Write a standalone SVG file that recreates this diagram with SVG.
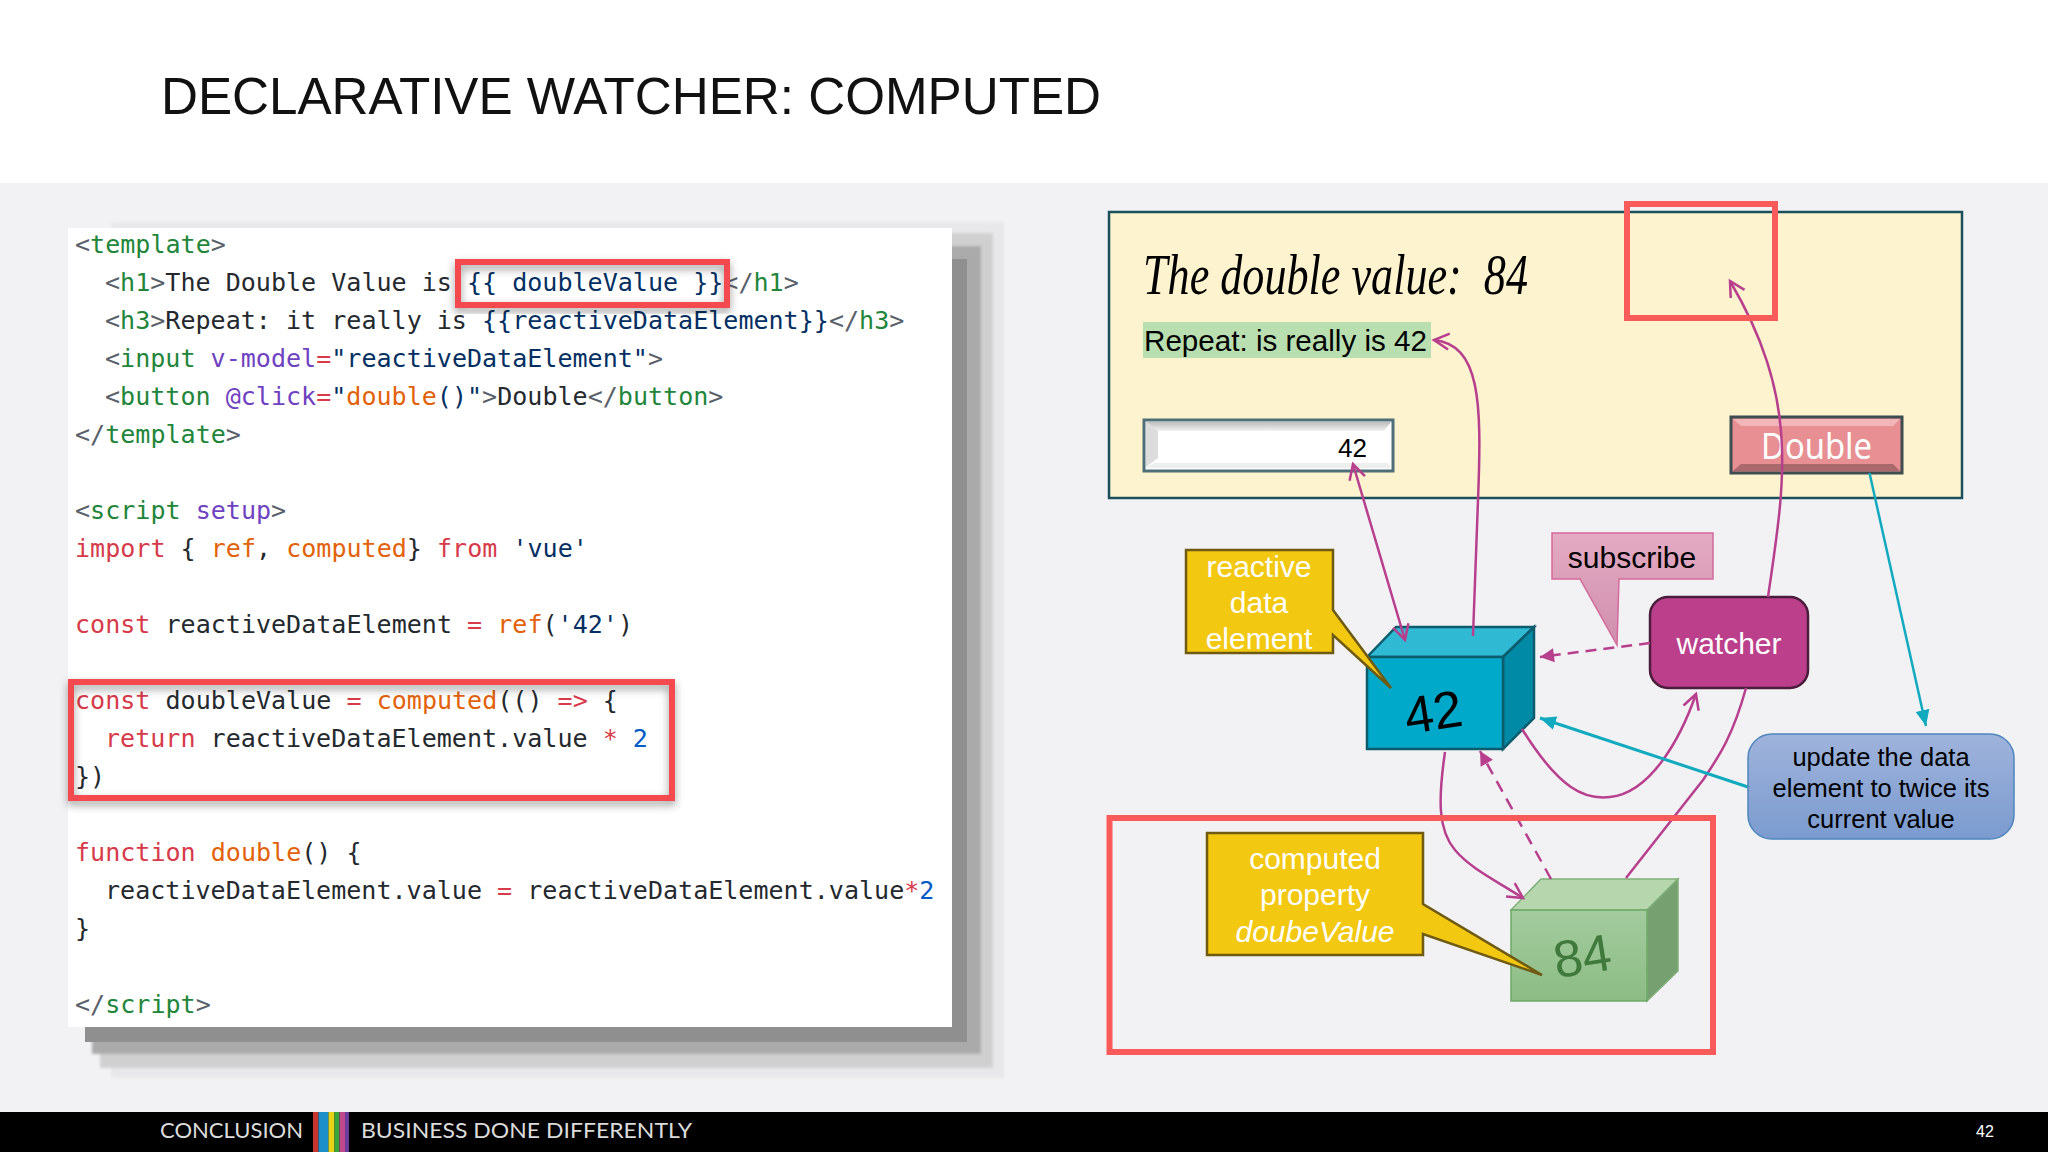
<svg xmlns="http://www.w3.org/2000/svg" width="2048" height="1152" viewBox="0 0 2048 1152">
<defs>
<style>
text{white-space:pre}
.sans{font-family:"Liberation Sans",Arial,sans-serif}
.code{font-family:"DejaVu Sans Mono","Liberation Mono",monospace;font-size:25.05px;fill:#24292e}
.t{fill:#22863a}.g{fill:#586069}.p{fill:#6f42c1}.s{fill:#032f62}.k{fill:#d73a49}.f{fill:#e36209}.n{fill:#005cc5}
.hl{fill:none;stroke:#f4484f;stroke-width:6;filter:url(#sh)}
.red{fill:none;stroke:#f95b5b;stroke-width:6}
.call{fill:#f2c811;stroke:#6e5a12;stroke-width:2.5}
.wt{fill:#fff;font-size:30px;text-anchor:middle}
.bk{fill:#000;font-size:25.5px;text-anchor:middle}
.m{fill:none;stroke:#b83f8e;stroke-width:2.5}
.c{fill:none;stroke:#11aabf}
.foot{font-family:Lato,"Liberation Sans",sans-serif;font-size:22px;fill:#dcdcdc}
</style>
<filter id="sh" x="-10%" y="-20%" width="120%" height="140%"><feDropShadow dx="0" dy="4" stdDeviation="4" flood-color="#000" flood-opacity=".4"/></filter>
<filter id="soft" x="-5%" y="-5%" width="110%" height="110%"><feGaussianBlur stdDeviation="1.5"/></filter>
<marker id="open" markerUnits="userSpaceOnUse" markerWidth="26" markerHeight="26" refX="19" refY="13" orient="auto-start-reverse"><path d="M4,5 L19,13 L4,21" fill="none" stroke="#b83f8e" stroke-width="2.5"/></marker>
<marker id="fm" markerUnits="userSpaceOnUse" markerWidth="20" markerHeight="20" refX="15" refY="10" orient="auto"><path d="M1,3 L15,10 L1,17 Z" fill="#b83f8e"/></marker>
<marker id="fc" markerUnits="userSpaceOnUse" markerWidth="20" markerHeight="22" refX="16" refY="11" orient="auto"><path d="M0,4 L16,11 L0,18 Z" fill="#11aabf"/></marker>
<linearGradient id="pk" x1="0" y1="0" x2="0" y2="1"><stop offset="0" stop-color="#e4aac3"/><stop offset="1" stop-color="#cf8fae"/></linearGradient>
<linearGradient id="bl" x1="0" y1="0" x2="0" y2="1"><stop offset="0" stop-color="#9fb3db"/><stop offset="1" stop-color="#7b9bcf"/></linearGradient>
<linearGradient id="gr" x1="0" y1="0" x2="0" y2="1"><stop offset="0" stop-color="#a3cb9e"/><stop offset="1" stop-color="#8cbc84"/></linearGradient>
<linearGradient id="bev" x1="0" y1="0" x2="0" y2="1"><stop offset="0" stop-color="#bdbdbd"/><stop offset="1" stop-color="#f2f2f2"/></linearGradient>
</defs>

<rect width="2048" height="1152" fill="#f2f2f4"/>
<rect width="2048" height="183" fill="#fff"/>
<rect y="1112" width="2048" height="40" fill="#000"/>
<text class="sans" x="161" y="114" font-size="52" textLength="940" lengthAdjust="spacingAndGlyphs" fill="#111">DECLARATIVE WATCHER: COMPUTED</text>

<g id="code-panel">
<g filter="url(#soft)">
<rect x="111" y="222" width="893" height="856" fill="#e8e8ea"/>
<rect x="100" y="233" width="893" height="835" fill="#d0d0d1"/>
<rect x="92" y="246" width="889" height="808" fill="#aaa"/>
</g>
<rect x="85" y="259" width="882" height="783" fill="#8f8f8f"/>
<rect x="68" y="228" width="884" height="799" fill="#fff"/>
<g class="code">
<text x="75" y="253"><tspan class="g">&lt;</tspan><tspan class="t">template</tspan><tspan class="g">&gt;</tspan></text>
<text x="105" y="291"><tspan class="g">&lt;</tspan><tspan class="t">h1</tspan><tspan class="g">&gt;</tspan>The Double Value is <tspan class="s">{{ doubleValue }}</tspan><tspan class="g">&lt;/</tspan><tspan class="t">h1</tspan><tspan class="g">&gt;</tspan></text>
<text x="105" y="329"><tspan class="g">&lt;</tspan><tspan class="t">h3</tspan><tspan class="g">&gt;</tspan>Repeat: it really is <tspan class="s">{{reactiveDataElement}}</tspan><tspan class="g">&lt;/</tspan><tspan class="t">h3</tspan><tspan class="g">&gt;</tspan></text>
<text x="105" y="367"><tspan class="g">&lt;</tspan><tspan class="t">input</tspan> <tspan class="p">v-model</tspan><tspan class="k">=</tspan><tspan class="s">"reactiveDataElement"</tspan><tspan class="g">&gt;</tspan></text>
<text x="105" y="405"><tspan class="g">&lt;</tspan><tspan class="t">button</tspan> <tspan class="p">@click</tspan><tspan class="k">=</tspan><tspan class="s">"</tspan><tspan class="f">double</tspan><tspan class="s">()"</tspan><tspan class="g">&gt;</tspan>Double<tspan class="g">&lt;/</tspan><tspan class="t">button</tspan><tspan class="g">&gt;</tspan></text>
<text x="75" y="443"><tspan class="g">&lt;/</tspan><tspan class="t">template</tspan><tspan class="g">&gt;</tspan></text>
<text x="75" y="519"><tspan class="g">&lt;</tspan><tspan class="t">script</tspan> <tspan class="p">setup</tspan><tspan class="g">&gt;</tspan></text>
<text x="75" y="557"><tspan class="k">import</tspan> { <tspan class="f">ref</tspan>, <tspan class="f">computed</tspan>} <tspan class="k">from</tspan> <tspan class="s">'vue'</tspan></text>
<text x="75" y="633"><tspan class="k">const</tspan> reactiveDataElement <tspan class="k">=</tspan> <tspan class="f">ref</tspan>(<tspan class="s">'42'</tspan>)</text>
<text x="75" y="709"><tspan class="k">const</tspan> doubleValue <tspan class="k">=</tspan> <tspan class="f">computed</tspan>(() <tspan class="k">=&gt;</tspan> {</text>
<text x="105" y="747"><tspan class="k">return</tspan> reactiveDataElement.value <tspan class="k">*</tspan> <tspan class="n">2</tspan></text>
<text x="75" y="785">})</text>
<text x="75" y="861"><tspan class="k">function</tspan> <tspan class="f">double</tspan>() {</text>
<text x="105" y="899">reactiveDataElement.value <tspan class="k">=</tspan> reactiveDataElement.value<tspan class="k">*</tspan><tspan class="n">2</tspan></text>
<text x="75" y="937">}</text>
<text x="75" y="1013"><tspan class="g">&lt;/</tspan><tspan class="t">script</tspan><tspan class="g">&gt;</tspan></text>
</g>
<rect class="hl" x="458" y="262" width="269" height="43"/>
<rect class="hl" x="71" y="682" width="601" height="116"/>
</g>

<g id="app-panel">
<rect x="1109" y="212" width="853" height="286" fill="#fdf3cf" stroke="#1c4f5c" stroke-width="2.5"/>
<text x="1143" y="294" font-family="'Liberation Serif',serif" font-style="italic" font-size="56" textLength="385" lengthAdjust="spacingAndGlyphs" fill="#000">The double value:  84</text>
<rect x="1143" y="322" width="288" height="36" fill="#b9dfb0"/>
<text class="sans" x="1144" y="351" font-size="30" textLength="283" lengthAdjust="spacingAndGlyphs" fill="#000">Repeat: is really is 42</text>
</g>

<g id="input">
<rect x="1144" y="420" width="249" height="51" fill="#fff" stroke="#4f6f78" stroke-width="3"/>
<path d="M1146,422 H1391 L1384,431 H1158 Z" fill="url(#bev)"/>
<path d="M1146,422 L1158,431 V458 L1146,467 Z" fill="#dcdcdc"/>
<path d="M1146,468 L1154,463 H1388 L1391,468 Z" fill="#eee"/>
<text class="sans" x="1338" y="457" font-size="26" fill="#000">42</text>
</g>

<g id="button">
<rect x="1731" y="417" width="171" height="56" fill="#e88f93" stroke="#3d4d50" stroke-width="3"/>
<path d="M1733,419 H1900 L1893,426 H1741 Z" fill="#f3b6b8"/>
<path d="M1733,471 L1741,464 H1893 L1900,471 Z" fill="#a9696d"/>
<text x="1761" y="459" font-family="'Noto Sans','Liberation Sans',sans-serif" font-size="36" textLength="111" lengthAdjust="spacingAndGlyphs" fill="#fff">Double</text>
</g>

<g id="cube-42">
<path d="M1367,657 L1396,627 H1534 L1503,657 Z" fill="#2fb9d2" stroke="#0c5c6e" stroke-width="2.5"/>
<path d="M1503,657 L1534,627 V718 L1503,749 Z" fill="#008aa5" stroke="#0c5c6e" stroke-width="2.5"/>
<rect x="1367" y="657" width="136" height="92" fill="#00a9c9" stroke="#0c5c6e" stroke-width="2.5"/>
<text class="sans" x="1433" y="730" font-size="52" text-anchor="middle" fill="#000" transform="rotate(-9 1433 711)">42</text>
</g>

<g id="cube-84">
<path d="M1511,910 L1541,879 H1678 L1647,910 Z" fill="#b6d6ae" stroke="#7fb077" stroke-width="1.5"/>
<path d="M1647,910 L1678,879 V971 L1647,1001 Z" fill="#76a070" stroke="#7fb077" stroke-width="1.5"/>
<rect x="1511" y="910" width="136" height="91" fill="url(#gr)" stroke="#6fa868" stroke-width="1.5"/>
<text class="sans" x="1582" y="974" font-size="52" text-anchor="middle" fill="#3f7a3c" transform="rotate(-9 1582 955)">84</text>
</g>

<g id="watcher">
<rect x="1650" y="597" width="158" height="91" rx="18" fill="#bb3f8a" stroke="#4a1d3c" stroke-width="2.5"/>
<text class="sans wt" x="1729" y="654">watcher</text>
</g>

<g id="connectors">
<path class="m" d="M1405,640 L1353,464" marker-start="url(#open)" marker-end="url(#open)"/>
<path class="m" d="M1473,636 L1478,500 C1482,400 1480,345 1434,340" marker-end="url(#open)"/>
<path class="m" d="M1768,597 C1785,480 1800,400 1730,281" marker-end="url(#open)"/>
<path class="m" d="M1522,729 C1560,790 1585,800 1610,797 C1650,793 1680,740 1696,694" marker-end="url(#open)"/>
<path class="m" d="M1746,688 C1733,735 1720,755 1703,780 L1626,878"/>
<path class="m" d="M1445,752 C1438,800 1438,830 1455,850 C1470,868 1495,880 1523,898" marker-end="url(#open)"/>
<path class="m" d="M1650,643 L1540,657" stroke-width="3.5" stroke-dasharray="11 7" marker-end="url(#fm)"/>
<path class="m" d="M1551,879 L1480,751" stroke-dasharray="12 8" marker-end="url(#fm)"/>
<path class="c" d="M1869.5,473 L1926,726" stroke-width="2.5" marker-end="url(#fc)"/>
<path class="c" d="M1748,787 L1540,718" stroke-width="3" marker-end="url(#fc)"/>
</g>

<g id="callout-reactive">
<path class="call" d="M1186,550 H1333 V610 L1391,688 L1333,635 V653 H1186 Z"/>
<text class="sans wt" x="1259" y="577">reactive</text>
<text class="sans wt" x="1259" y="613">data</text>
<text class="sans wt" x="1259" y="649">element</text>
</g>

<g id="callout-subscribe">
<path d="M1552,533 H1713 V579 H1619 L1617,645 L1580,579 H1552 Z" fill="url(#pk)" stroke="#d46a9a" stroke-width="1.5"/>
<text class="sans" x="1632" y="568" font-size="30" text-anchor="middle" fill="#000">subscribe</text>
</g>

<g id="note-update">
<rect x="1748" y="734" width="266" height="105" rx="24" fill="url(#bl)" stroke="#4e86bd" stroke-width="1.5"/>
<text class="sans bk" x="1881" y="766">update the data</text>
<text class="sans bk" x="1881" y="797">element to twice its</text>
<text class="sans bk" x="1881" y="828">current value</text>
</g>

<g id="callout-computed">
<path class="call" d="M1207,833 H1423 V904 L1542,975 L1423,934 V955 H1207 Z"/>
<text class="sans wt" x="1315" y="869">computed</text>
<text class="sans wt" x="1315" y="905">property</text>
<text class="sans wt" x="1315" y="942" font-style="italic">doubeValue</text>
</g>

<g id="highlights">
<rect class="red" x="1627" y="204" width="148" height="114"/>
<rect class="red" x="1109.5" y="818" width="603.5" height="234"/>
</g>

<g id="footer">
<text class="foot" x="160" y="1138" textLength="143" lengthAdjust="spacingAndGlyphs">CONCLUSION</text>
<rect x="313" y="1112" width="5.5" height="40" fill="#c8352f"/>
<rect x="318.5" y="1112" width="10" height="40" fill="#1c8fc8"/>
<rect x="328.5" y="1112" width="6" height="40" fill="#e6d418"/>
<rect x="334.5" y="1112" width="5" height="40" fill="#3aa53a"/>
<rect x="339.5" y="1112" width="5.5" height="40" fill="#c0488f"/>
<rect x="345" y="1112" width="4" height="40" fill="#6a3d9a"/>
<text class="foot" x="361" y="1138" textLength="331" lengthAdjust="spacingAndGlyphs">BUSINESS DONE DIFFERENTLY</text>
<text class="sans" x="1976" y="1137" font-size="16" fill="#fff">42</text>
</g>
</svg>
